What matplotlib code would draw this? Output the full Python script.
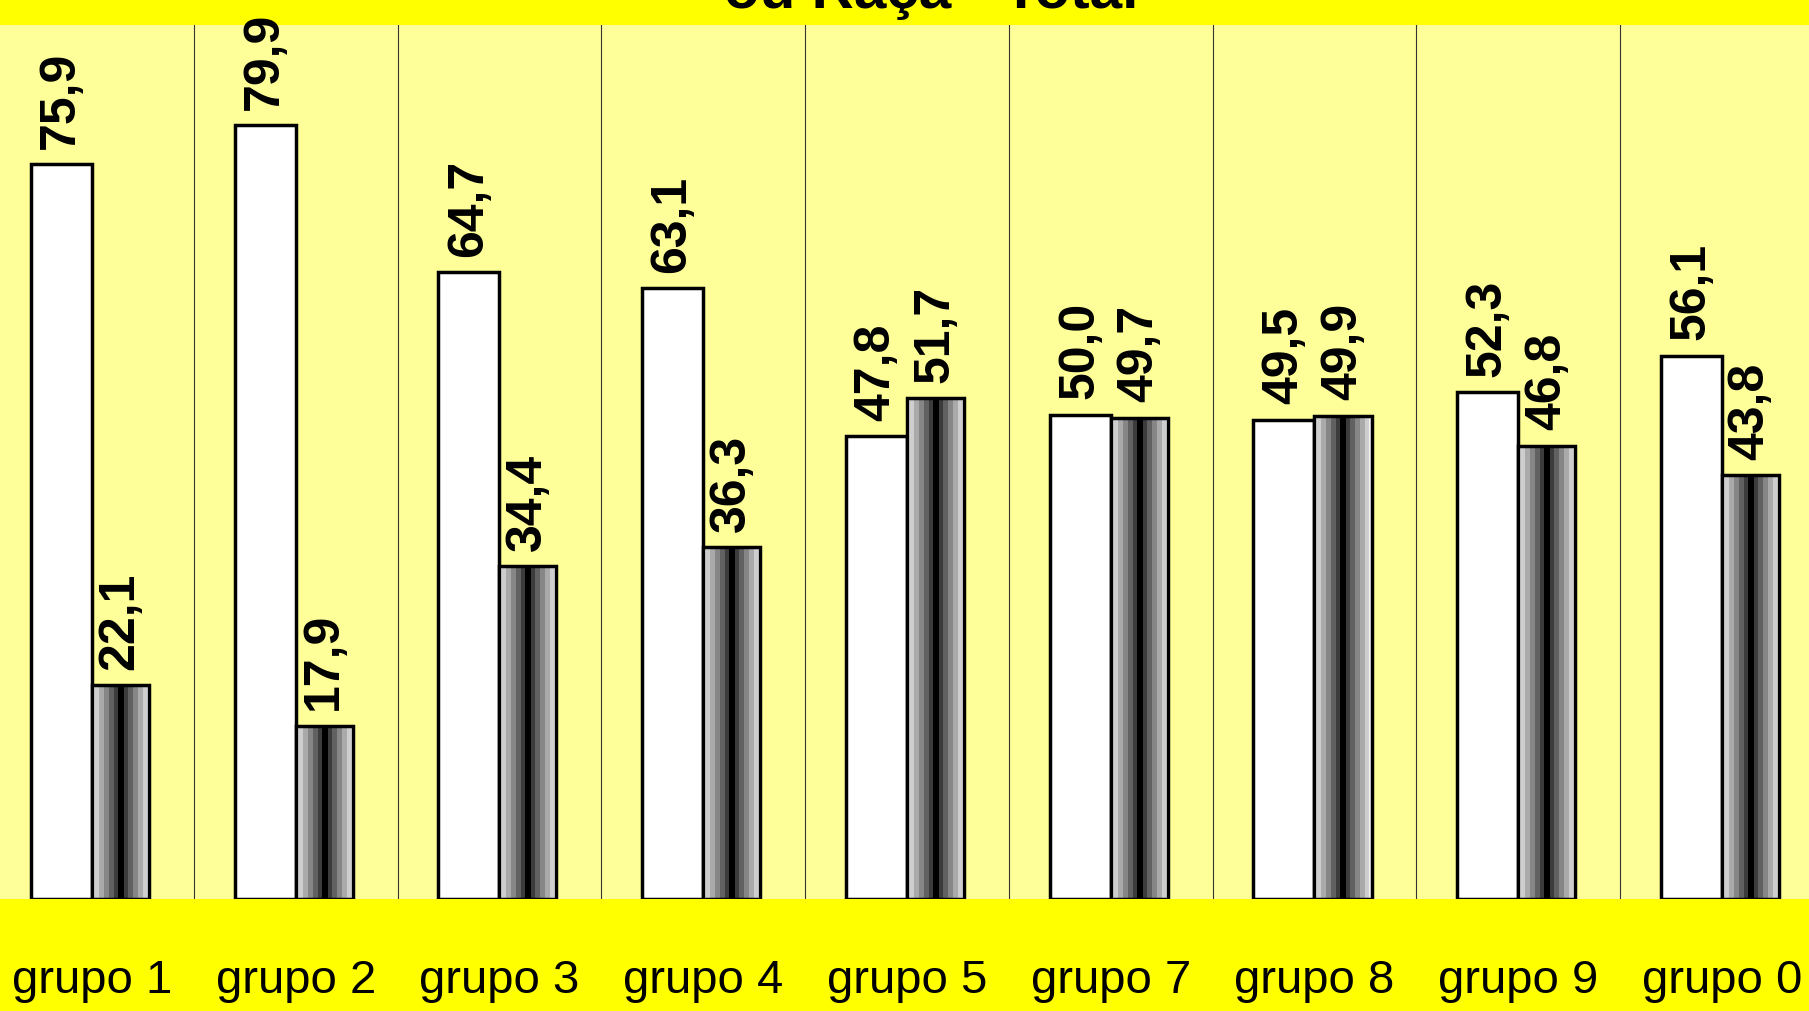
import matplotlib.pyplot as plt
import numpy as np

plt.rcParams["font.family"] = ["Liberation Sans", "DejaVu Sans"]

GROUPS = ["grupo 1", "grupo 2", "grupo 3", "grupo 4", "grupo 5",
          "grupo 7", "grupo 8", "grupo 9", "grupo 0"]
WHITE_VALS = [75.9, 79.9, 64.7, 63.1, 47.8, 50.0, 49.5, 52.3, 56.1]
SHADED_VALS = [22.1, 17.9, 34.4, 36.3, 51.7, 49.7, 49.9, 46.8, 43.8]
TITLE = "ou Raça - Total"

BG_OUTER = "#FFFF00"
BG_PLOT = "#FFFF99"


def fmt(v):
    return f"{v:.1f}".replace(".", ",")


def main():
    fig = plt.figure(figsize=(18.09, 10.11), dpi=100, facecolor=BG_OUTER)
    ax = fig.add_axes([0.0, 0.1107, 1.0, 0.8642], facecolor=BG_PLOT)

    x = np.arange(len(GROUPS))
    w1, w2 = 0.30, 0.28
    b_white = ax.bar(x + 0.2, WHITE_VALS, w1, align="edge", color="white",
                     edgecolor="black", linewidth=2.5, zorder=3)
    b_shade = ax.bar(x + 0.5, SHADED_VALS, w2, align="edge", color="none",
                     edgecolor="black", linewidth=2.5, zorder=4)

    # stepped gray gradient: black in the middle, fading to white at the edges
    t = np.linspace(-1, 1, 200)
    steps = np.round(np.abs(t) * 6) / 6
    grad = 0.1 + 0.85 * steps
    grad[np.abs(t) < 0.12] = 0.0
    for b in b_shade:
        x0, y0 = b.get_x(), b.get_y()
        ax.imshow(grad[None, :], cmap="gray", vmin=0, vmax=1, aspect="auto",
                  interpolation="nearest", zorder=3,
                  extent=(x0, x0 + b.get_width(), y0, y0 + b.get_height()))

    for bars, vals in ((b_white, WHITE_VALS), (b_shade, SHADED_VALS)):
        for b, v in zip(bars, vals):
            ax.annotate(fmt(v), (b.get_x() + b.get_width() / 2, v),
                        xytext=(0, 11), textcoords="offset points",
                        rotation=90, ha="center", va="bottom",
                        fontsize=36, fontweight="bold", zorder=5)

    for k in range(1, len(GROUPS)):
        ax.axvline(k, color="#333333", lw=0.8, zorder=1)

    ax.set_xlim(0.049, 8.927)
    ax.set_ylim(0, 90.2)
    ax.set_xticks(x + 0.5)
    ax.set_xticklabels(GROUPS, fontsize=34)
    ax.tick_params(axis="x", length=0, pad=43)
    ax.set_yticks([])
    for s in ax.spines.values():
        s.set_visible(False)

    fig.text(0.515, 1 - 8 / 1011, TITLE, ha="center", va="baseline",
             fontsize=42, fontweight="bold")

    fig.savefig("out.png", dpi=100, facecolor=BG_OUTER)
    plt.close(fig)


if __name__ == "__main__":
    main()
